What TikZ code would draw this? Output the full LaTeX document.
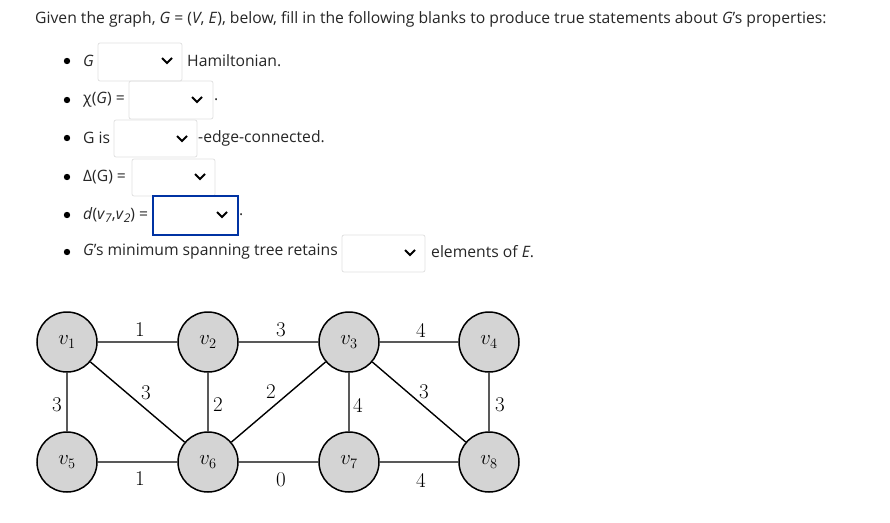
\documentclass[tikz,border=0pt]{standalone}
\usepackage{fontspec}
\setmainfont{Open Sans}
\newfontfamily\lmfont{Latin Modern Roman}
\begin{document}
\begin{tikzpicture}[x=1pt,y=-1pt,
  vtx/.style={circle,draw=black,line width=1.5pt,fill=black!17,minimum size=60pt,inner sep=0pt,font=\lmfont\fontsize{22}{22}\selectfont},
  edge/.style={line width=1.4pt},
  wt/.style={font=\lmfont\fontsize{21}{21}\selectfont,inner sep=0pt},
  txt/.style={anchor=west,inner sep=0pt,font=\fontsize{15.7}{18}\selectfont,text=black!85},
  dd/.style={draw=black!12,rounded corners=2pt,line width=0.8pt},
  ddsel/.style={draw=blue!55!black!80!cyan,line width=1.8pt},
  chev/.style={line width=1.8pt}]
\useasboundingbox (0,0) rectangle (890,522);
\node[txt] (title) at (35,19) {Given the graph, \textit{G} = (\textit{V}, \textit{E}), below, fill in the following blanks to produce true statements about \textit{G}'s properties:};
\foreach \y in {61,100,138,177,215,252} \fill (67,\y) circle (3.2pt);
% row 1
\node[txt] (r1) at (83,61) {\textit{G}};
\draw[dd] (98,43) rectangle (182,81);
\draw[chev] (162,58) -- (167,63) -- (172,58);
\node[txt] (r1b) at (187,61) {Hamiltonian.};
% row 2
\node[txt] (r2) at (83,100) {χ(\textit{G}) =};
\draw[dd] (129,81) rectangle (213,119);
\draw[chev] (192,97) -- (197,102) -- (202,97);
\node[txt] (r2b) at (214,100) {.};
% row 3
\node[txt] (r3) at (83,138) {G is};
\draw[dd] (114,120) rectangle (197,157);
\draw[chev] (177,136) -- (182,141) -- (187,136);
\node[txt] (r3b) at (198,138) {-edge-connected.};
% row 4
\node[txt] (r4) at (83,177) {Δ(G) =};
\draw[dd] (132,159) rectangle (215,196);
\draw[chev] (195,174) -- (200,179) -- (205,174);
% row 5
\node[txt] (r5) at (83,215) {\textit{d}(\textit{v}\raisebox{-3pt}{\textit{\fontsize{12}{12}\selectfont 7}},\textit{v}\raisebox{-3pt}{\textit{\fontsize{12}{12}\selectfont 2}}) =};
\draw[ddsel] (153,196) rectangle (238,235);
\draw[chev] (217,212) -- (222,217) -- (227,212);
\node[txt] (r5b) at (239,215) {.};
% row 6
\node[txt] (r6) at (83,252) {\textit{G}'s minimum spanning tree retains};
\draw[dd] (342,235) rectangle (425,272);
\draw[chev] (405,250) -- (410,255) -- (415,250);
\node[txt] (r6b) at (431,252) {elements of \textit{E}.};
% graph
\node[vtx] (v1) at (67,342) {$v_1$};
\node[vtx] (v2) at (208,342) {$v_2$};
\node[vtx] (v3) at (349,342) {$v_3$};
\node[vtx] (v4) at (489,342) {$v_4$};
\node[vtx] (v5) at (67,462) {$v_5$};
\node[vtx] (v6) at (208,462) {$v_6$};
\node[vtx] (v7) at (349,462) {$v_7$};
\node[vtx] (v8) at (489,462) {$v_8$};
\draw[edge] (v1)--(v2) (v2)--(v3) (v3)--(v4)
  (v1)--(v5) (v1)--(v6) (v2)--(v6) (v6)--(v3) (v3)--(v7) (v3)--(v8) (v4)--(v8)
  (v5)--(v6) (v6)--(v7) (v7)--(v8);
\node[wt] (w12) at (140,330) {1};
\node[wt] (w23) at (281,330) {3};
\node[wt] (w34) at (421,330) {4};
\node[wt] (w15) at (57,405) {3};
\node[wt] (w16) at (146,393) {3};
\node[wt] (w26) at (218,405) {2};
\node[wt] (w36) at (271,392) {2};
\node[wt] (w37) at (358,405) {4};
\node[wt] (w38) at (424,392) {3};
\node[wt] (w48) at (500,405) {3};
\node[wt] (w56) at (140,479) {1};
\node[wt] (w67) at (281,480) {0};
\node[wt] (w78) at (421,480) {4};
\end{tikzpicture}
\end{document}
